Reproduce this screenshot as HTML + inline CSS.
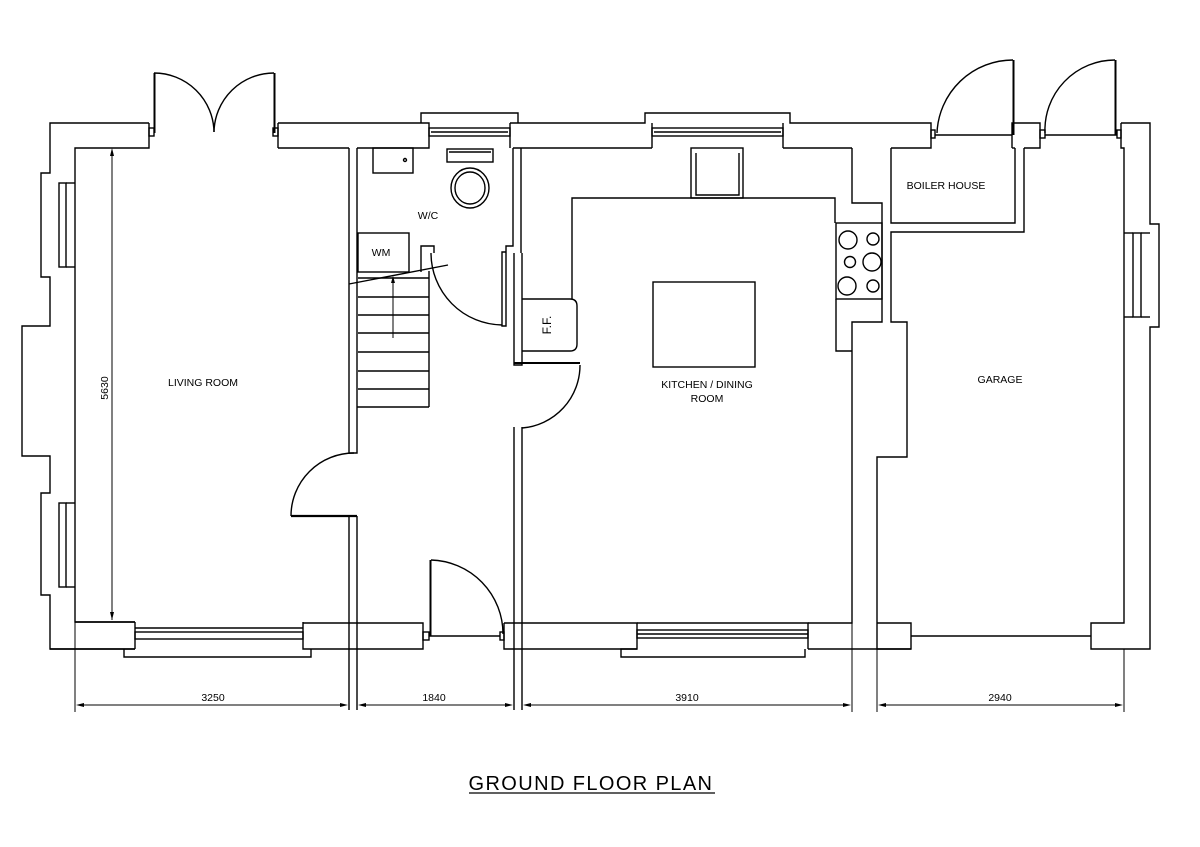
<!DOCTYPE html>
<html><head><meta charset="utf-8"><style>
html,body{margin:0;padding:0;background:#fff}
svg{display:block}
text{font-family:"Liberation Sans",sans-serif;fill:#000}
</style></head><body>
<svg width="1200" height="847" viewBox="0 0 1200 847" xmlns="http://www.w3.org/2000/svg">
<rect width="1200" height="847" fill="#fff"/>
<g fill="none" stroke="#000" stroke-width="1.4">
<!-- LEFT / LIVING ROOM OUTER -->
<polyline points="149,123 50,123 50,173 41,173 41,277 50,277 50,326 22,326 22,456 50,456 50,493 41,493 41,595 50,595 50,649 135,649"/>
<rect x="59" y="183" width="7" height="84"/>
<rect x="59" y="503" width="7" height="84"/>
<polyline points="149,123 149,148 75,148 75,622 135,622"/>
<line x1="66" y1="183" x2="75" y2="183"/><line x1="66" y1="267" x2="75" y2="267"/>
<line x1="66" y1="503" x2="75" y2="503"/><line x1="66" y1="587" x2="75" y2="587"/>
<!-- french doors -->
<rect x="149" y="128" width="5" height="8"/><rect x="273" y="128" width="5" height="8"/>
<line x1="154.5" y1="73" x2="154.5" y2="133" stroke-width="2"/>
<line x1="274.5" y1="73" x2="274.5" y2="133" stroke-width="2"/>
<path d="M154,73 A60,60 0 0 1 214,132"/>
<path d="M274,73 A60,60 0 0 0 214,132"/>
<!-- top wall mid -->
<polyline points="278,123 429,123 429,148 357,148"/>
<line x1="278" y1="123" x2="278" y2="148"/><line x1="278" y1="148" x2="349" y2="148"/>
<polyline points="421,123 421,113 518,113 518,123"/>
<rect x="429" y="128" width="81" height="8"/>
<line x1="431" y1="132" x2="508" y2="132"/>
<polyline points="510,123 645,123 645,113 790,113 790,123 931,123 931,148 891,148"/>
<line x1="510" y1="123" x2="510" y2="148"/>
<line x1="513" y1="148" x2="652" y2="148"/>
<line x1="652" y1="123" x2="652" y2="148"/><line x1="783" y1="123" x2="783" y2="148"/>
<rect x="652" y="128" width="131" height="8"/><line x1="654" y1="132" x2="781" y2="132"/>
<line x1="783" y1="148" x2="852" y2="148"/>
<!-- boiler door -->
<rect x="931" y="130" width="4" height="8"/>
<line x1="935" y1="135" x2="1012" y2="135"/>
<line x1="1013.5" y1="60" x2="1013.5" y2="135" stroke-width="2"/>
<path d="M937,133 A76,76 0 0 1 1013,60"/>
<polyline points="1012,148 1012,123 1040,123 1040,148 1024,148"/>
<line x1="1012" y1="148" x2="1015" y2="148"/>
<rect x="1040" y="130" width="5" height="8"/>
<line x1="1045" y1="135" x2="1117" y2="135"/>
<line x1="1115.5" y1="60" x2="1115.5" y2="135" stroke-width="2"/>
<path d="M1045,133 A70,70 0 0 1 1115,60"/>
<rect x="1117" y="130" width="4" height="8"/>
<polyline points="1121,123 1150,123 1150,224 1159,224 1159,327 1150,327 1150,649 1091,649 1091,623 1124,623 1124,148 1121,148 1121,123"/>
<rect x="1133" y="233" width="8" height="84"/>
<line x1="1124" y1="233" x2="1133" y2="233"/><line x1="1124" y1="317" x2="1133" y2="317"/>
<line x1="1141" y1="233" x2="1150" y2="233"/><line x1="1141" y1="317" x2="1150" y2="317"/>
<!-- boiler house / garage -->
<polyline points="891,148 891,223 1015,223 1015,148"/>
<polyline points="1024,148 1024,232 891,232 891,322 907,322 907,457 877,457 877,649 911,649 911,623 877,623"/>
<line x1="911" y1="636" x2="1091" y2="636"/>
<!-- kitchen right wall -->
<polyline points="852,148 852,203 882,203 882,322 852,322 852,623 808,623"/>
<!-- hall/living wall -->
<polyline points="349,148 349,453 357,453 357,148"/>
<polyline points="349,516 349,710"/><polyline points="357,516 357,710"/>
<line x1="291" y1="516" x2="357" y2="516" stroke-width="2.2"/>
<path d="M291,516 A63,63 0 0 1 354,453"/>
<!-- WC -->
<rect x="373" y="148" width="40" height="25"/>
<circle cx="405" cy="160" r="1.5"/>
<rect x="447" y="149" width="46" height="13"/>
<line x1="449" y1="152" x2="491" y2="152"/>
<ellipse cx="470" cy="188" rx="19" ry="20"/>
<ellipse cx="470" cy="188" rx="15" ry="16"/>
<rect x="358" y="233" width="51" height="39"/>
<polyline points="421,272 421,246 434,246 434,253"/>
<line x1="349" y1="284" x2="448" y2="265"/>
<polyline points="513,148 513,246 506,246 506,252 502,252 502,326 506,326 506,252"/>
<line x1="521" y1="148" x2="521" y2="253"/>
<path d="M431,253 A72,72 0 0 0 502,325"/>
<!-- stairs -->
<line x1="429" y1="271" x2="429" y2="407"/>
<line x1="357" y1="407" x2="429" y2="407"/>
<line x1="358" y1="278" x2="429" y2="278"/><line x1="358" y1="297" x2="429" y2="297"/>
<line x1="358" y1="315" x2="429" y2="315"/><line x1="358" y1="333" x2="429" y2="333"/>
<line x1="358" y1="352" x2="429" y2="352"/><line x1="358" y1="371" x2="429" y2="371"/>
<line x1="358" y1="389" x2="429" y2="389"/>
<line x1="393" y1="338" x2="393" y2="280" stroke-width="1"/>
<!-- kitchen left wall -->
<polyline points="514,253 514,365 522,365 522,253"/>
<line x1="514" y1="363" x2="580" y2="363" stroke-width="2"/>
<path d="M580,365 A63,63 0 0 1 522,428"/>
<polyline points="514,427 514,710"/><polyline points="522,427 522,710"/>
<!-- FF -->
<path d="M522,299 L570,299 Q577,299 577,306 L577,344 Q577,351 570,351 L522,351"/>
<!-- counters -->
<polyline points="572,299 572,198 835,198 835,223"/>
<rect x="691" y="148" width="52" height="50"/>
<polyline points="696,153 696,195 739,195 739,153"/>
<rect x="836" y="223" width="46" height="76"/>
<polyline points="836,299 836,351 852,351"/>
<circle cx="848" cy="240" r="9"/><circle cx="873" cy="239" r="6"/>
<circle cx="850" cy="262" r="5.5"/><circle cx="872" cy="262" r="9"/>
<circle cx="847" cy="286" r="9"/><circle cx="873" cy="286" r="6"/>
<rect x="653" y="282" width="102" height="85"/>
<!-- bottom wall -->
<polyline points="135,649 135,622"/>
<polyline points="135,622 75,622"/>
<polyline points="124,649 124,657 311,657 311,649"/>
<rect x="135" y="632" width="168" height="7"/>
<line x1="135" y1="628" x2="303" y2="628"/>
<polyline points="303,622 303,649 423,649 423,623 303,623"/>
<line x1="50" y1="649" x2="135" y2="649"/>
<rect x="423" y="632" width="6" height="8"/>
<line x1="430.5" y1="560" x2="430.5" y2="636" stroke-width="2"/>
<line x1="429" y1="636" x2="500" y2="636"/>
<path d="M431,560 A74,74 0 0 1 503,634"/>
<rect x="500" y="632" width="4" height="8"/>
<polyline points="504,623 637,623 637,649 504,649 504,623"/>
<polyline points="637,623 808,623 808,649"/>
<polyline points="637,649 621,649 621,657 805,657 805,649"/>
<rect x="637" y="630" width="171" height="8"/>
<line x1="637" y1="634" x2="808" y2="634"/>
<line x1="808" y1="649" x2="911" y2="649"/>
<!-- dims -->
<g stroke-width="1">
<line x1="75" y1="622" x2="75" y2="712"/><line x1="852" y1="623" x2="852" y2="712"/>
<line x1="877" y1="649" x2="877" y2="712"/><line x1="1124" y1="649" x2="1124" y2="712"/>
<line x1="112" y1="150" x2="112" y2="620"/>
<line x1="78" y1="705" x2="346" y2="705"/>
<line x1="360" y1="705" x2="511" y2="705"/>
<line x1="525" y1="705" x2="849" y2="705"/>
<line x1="880" y1="705" x2="1121" y2="705"/>
</g>
</g>
<g fill="#000">
<path d="M112,148 l-2,8 h4z"/><path d="M112,620 l-2,-8 h4z"/>
<path d="M76,705 l8,-2 v4z"/><path d="M348,705 l-8,-2 v4z"/>
<path d="M358,705 l8,-2 v4z"/><path d="M513,705 l-8,-2 v4z"/>
<path d="M523,705 l8,-2 v4z"/><path d="M851,705 l-8,-2 v4z"/>
<path d="M878,705 l8,-2 v4z"/><path d="M1123,705 l-8,-2 v4z"/>
<path d="M393,276 l-2,7 h4z"/>
</g>
<g font-size="10.5" text-anchor="middle">
<text x="203" y="386">LIVING ROOM</text>
<text x="428" y="219">W/C</text>
<text x="381" y="256">WM</text>
<text x="551" y="325" font-size="12" transform="rotate(-90 551 325)">F.F.</text>
<text x="707" y="388">KITCHEN / DINING</text>
<text x="707" y="402">ROOM</text>
<text x="946" y="189">BOILER HOUSE</text>
<text x="1000" y="383">GARAGE</text>
<text x="108" y="388" transform="rotate(-90 108 388)">5630</text>
<text x="213" y="701">3250</text>
<text x="434" y="701">1840</text>
<text x="687" y="701">3910</text>
<text x="1000" y="701">2940</text>
</g>
<text x="591" y="790" font-size="20" text-anchor="middle" letter-spacing="1.5" textLength="245">GROUND FLOOR PLAN</text>
<line x1="469" y1="793" x2="715" y2="793" stroke="#000" stroke-width="1.3"/>
</svg>
</body></html>
